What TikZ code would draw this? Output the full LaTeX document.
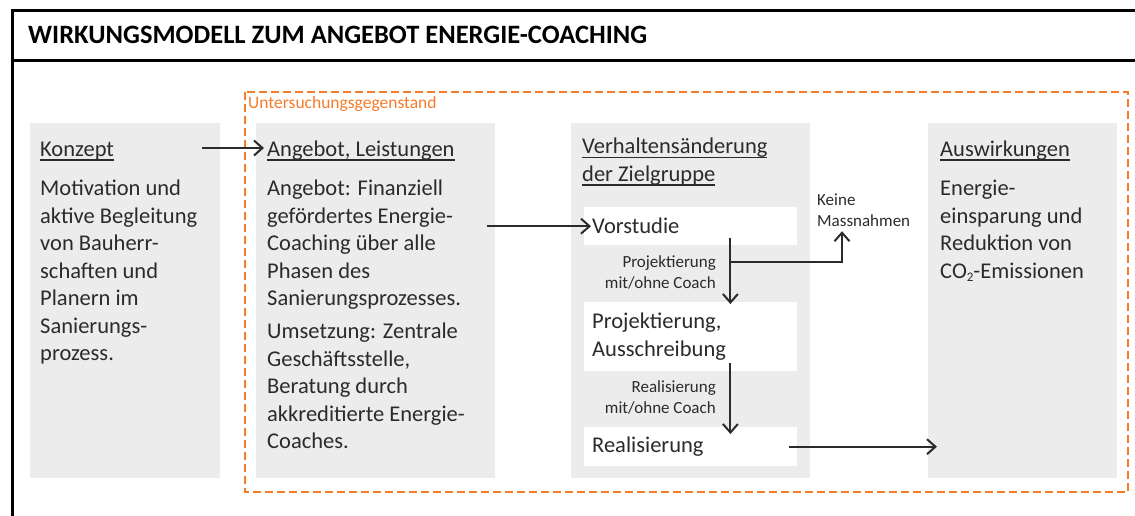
\documentclass[tikz,border=0pt]{standalone}
\usepackage{fontspec}
\setmainfont{Carlito}
\usetikzlibrary{arrows.meta, positioning}

\definecolor{boxgrey}{HTML}{EBECEB}
\definecolor{studyorange}{HTML}{F47B2A}
\definecolor{inkgrey}{HTML}{2B2B2B}

% underlined heading with a fixed rule
\newcommand{\headline}[1]{\setbox0\hbox{#1}\rlap{\rule[-4.5pt]{\wd0}{1.6pt}}\box0}

\begin{document}
\begin{tikzpicture}[x=1pt, y=-1pt,
    greybox/.style={fill=boxgrey, inner sep=0pt, anchor=north west},
    whitebox/.style={fill=white, inner xsep=8pt, inner ysep=0pt, anchor=north west,
        text width=197pt, align=left, text=inkgrey, font=\fontsize{22.5}{28}\selectfont},
    bodytext/.style={text=inkgrey, align=left, anchor=north west, inner sep=0pt,
        font=\fontsize{22.5}{27.5}\selectfont, execute at begin node={\rule{0pt}{18pt}}},
    smalltext/.style={text=inkgrey, inner sep=0pt, anchor=north east, align=right,
        font=\fontsize{17}{21}\selectfont, execute at begin node={\rule{0pt}{13pt}}},
    arr/.style={draw=inkgrey, line width=2pt, -{Straight Barb[length=8.5pt, width=15pt, line width=2pt]}}]

    \useasboundingbox (0,0) rectangle (1135,515);

    % frame and title
    \draw[line width=3pt] (12,530) -- (12,10) -- (1150,10);
    \draw[line width=3pt] (12,60) -- (1150,60);
    \node[anchor=base west, inner sep=0pt, font=\fontsize{26.5}{30}\selectfont\bfseries] (title) at (28,43)
        {WIRKUNGSMODELL ZUM ANGEBOT ENERGIE-COACHING};

    % area of study
    \draw[studyorange, line width=2pt, dash pattern=on 8pt off 4pt] (245,92) rectangle (1128,492);
    \node[anchor=base west, inner sep=0pt, text=studyorange, font=\fontsize{17.5}{20}\selectfont] (study) at (248,108)
        {Untersuchungsgegenstand};

    % the four columns
    \node[greybox, minimum width=190pt, minimum height=355pt] (konzept) at (30,123) {};
    \node[greybox, minimum width=239pt, minimum height=355pt] (angebot) at (256,123) {};
    \node[greybox, minimum width=239pt, minimum height=355pt] (verhalten) at (571,123) {};
    \node[greybox, minimum width=189pt, minimum height=355pt] (wirkung) at (928,123) {};

    % Konzept
    \node[bodytext] (konzepthead) at (40,138) {\headline{Konzept}};
    \node[bodytext] (konzepttext) at (40,180) {Motivation und\\aktive Begleitung\\von Bauherr-\\schaften und\\Planern im\\Sanierungs-\\prozess.};

    % Angebot
    \node[bodytext] (angebothead) at (267,138) {\headline{Angebot, Leistungen}};
    \node[bodytext] (angebottext) at (267,180) {Angebot: Finanziell\\gefördertes Energie-\\Coaching über alle\\Phasen des\\Sanierungsprozesses.};
    \node[bodytext] (umsetzung) at (267,323) {Umsetzung: Zentrale\\Geschäftsstelle,\\Beratung durch\\akkreditierte Energie-\\Coaches.};

    % Verhaltensaenderung
    \node[bodytext] (verhaltenhead) at (582,138) {\headline{Verhaltensänderung}\\\headline{der Zielgruppe}};
    \node[whitebox, minimum height=38pt] (vorstudie) at (584,207) {Vorstudie};
    \node[whitebox, minimum height=69pt] (projekt) at (584,302) {Projektierung,\\Ausschreibung};
    \node[whitebox, minimum height=39pt] (realisierung) at (584,427) {Realisierung};
    \node[smalltext] (projektlabel) at (716,255) {Projektierung\\mit/ohne Coach};
    \node[smalltext] (reallabel) at (716,380) {Realisierung\\mit/ohne Coach};
    \node[smalltext, anchor=north west, align=left] (keine) at (817,194) {Keine\\Massnahmen};

    % Auswirkungen
    \node[bodytext] (wirkunghead) at (940,138) {\headline{Auswirkungen}};
    \node[bodytext] (wirkungtext) at (940,180) {Energie-\\einsparung und\\Reduktion von\\CO{\fontsize{13}{13}\selectfont\raisebox{-3pt}{2}}-Emissionen};

    % connectors
    \draw[arr] ([xshift=-18pt]konzept.east |- 0,148) -- ([xshift=-3pt]angebothead.west |- 0,148);
    \draw[arr] ([xshift=-8pt]angebot.east |- vorstudie.west) -- ([xshift=7pt]vorstudie.west);
    \draw[arr] ([xshift=-67pt,yshift=7pt]vorstudie.south east) -- ([xshift=-67pt,yshift=-2pt]projekt.north east);
    \draw[arr] ([xshift=-67pt,yshift=-17pt]vorstudie.south east) -| ([xshift=25pt,yshift=-4pt]keine.south west);
    \draw[arr] ([xshift=-67pt,yshift=8pt]projekt.south east) -- ([xshift=-67pt,yshift=-7pt]realisierung.north east);
    \draw[arr] ([xshift=-8pt]realisierung.east) -- ([xshift=9pt]wirkung.west |- realisierung.east);
\end{tikzpicture}
\end{document}
